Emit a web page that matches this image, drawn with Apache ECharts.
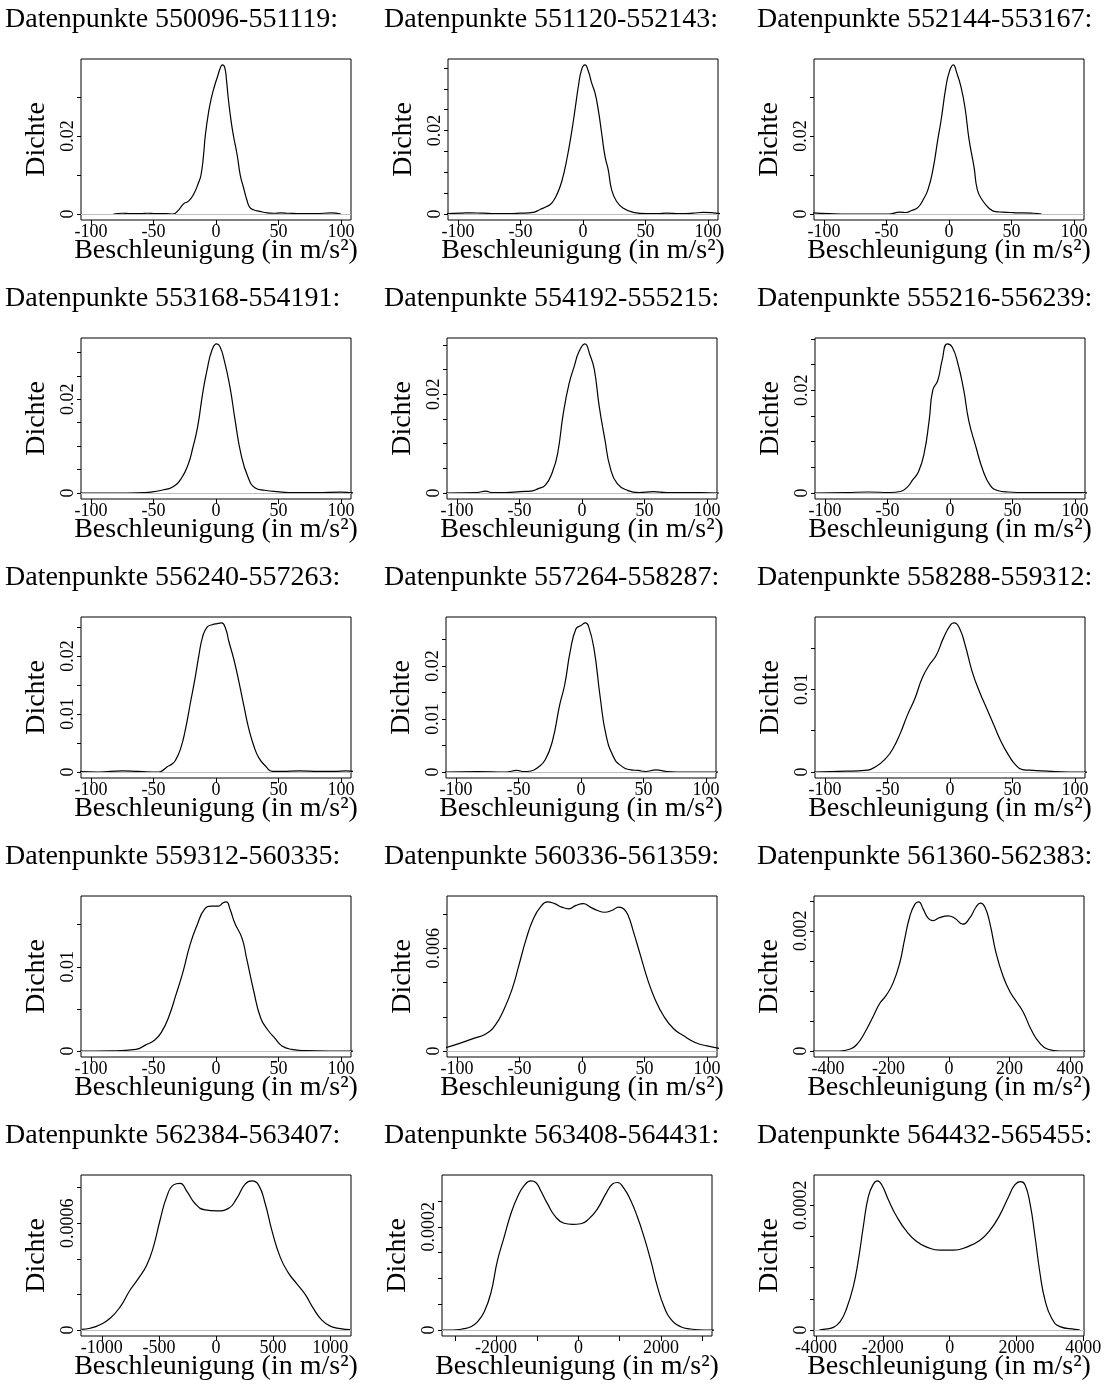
<!DOCTYPE html>
<html><head><meta charset="utf-8">
<script src="https://cdn.jsdelivr.net/npm/echarts@6/dist/echarts.min.js"></script>
<style>html,body{margin:0;padding:0;background:#fff}#c{width:1109px;height:1390px}</style>
</head><body><div id="c"></div>
<script>
// ---------- texts ----------
const titles = [
  'Datenpunkte 550096-551119:', 'Datenpunkte 551120-552143:', 'Datenpunkte 552144-553167:',
  'Datenpunkte 553168-554191:', 'Datenpunkte 554192-555215:', 'Datenpunkte 555216-556239:',
  'Datenpunkte 556240-557263:', 'Datenpunkte 557264-558287:', 'Datenpunkte 558288-559312:',
  'Datenpunkte 559312-560335:', 'Datenpunkte 560336-561359:', 'Datenpunkte 561360-562383:',
  'Datenpunkte 562384-563407:', 'Datenpunkte 563408-564431:', 'Datenpunkte 564432-565455:'
];
const xName = 'Beschleunigung (in m/s²)';
const yName = 'Dichte';

// ---------- density curves (x = Beschleunigung, d = Dichte) ----------
const x1 = [-82,-75,-68,-60,-55,-48,-40,-34.4,-30,-26,-22,-18,-14,-12,-10,-8.6,-6,-3.5,-1,1.5,3.5,5.1,7,8.5,9.7,12,14,17,19.4,22,24.7,27,30,35,41,46,52,58,68,80,92,100];
const d1 = [0,0.0002,0.0001,0.0001,0.0002,0.0001,0.0001,0,0.001,0.0026,0.0033,0.005,0.008,0.01,0.015,0.02,0.026,0.03,0.033,0.0355,0.0375,0.0382,0.0375,0.034,0.03,0.024,0.02,0.015,0.01,0.0068,0.0036,0.0017,0.0011,0.0007,0.0003,0.0002,0.0003,0.0002,0.0001,0.0001,0.0003,0];

const x2 = [-110,-98,-90,-80,-70,-60,-50,-40,-34.3,-29,-25,-21,-17,-13,-9,-6.4,-3.7,-1.1,1.6,4.3,6.9,9.6,12.2,14.9,17.6,20.2,22.9,26.9,32.2,40.2,50.8,60,66.8,77,88,96,110];
const d2 = [0.0001,0.0002,0.0003,0.0002,0.0001,0.0001,0.0002,0.0004,0.0011,0.0018,0.0026,0.0046,0.0078,0.013,0.0198,0.025,0.0306,0.0346,0.0357,0.0342,0.0314,0.029,0.025,0.0194,0.0138,0.0106,0.0058,0.003,0.0014,0.0004,0.0001,0.0001,0.0002,0.0001,0.0002,0.0004,0.0001];

const x3 = [-110,-96,-80,-60,-48.5,-39.3,-34,-30,-24.8,-20.8,-16.9,-12.9,-9,-6.3,-2.4,0.3,3.4,6.3,9.5,12.7,16.1,20,22.7,26.6,32,37.2,43,49,55,59.6,67.5,74];
const d3 = [0.0003,0.0001,0,0,0,0.0005,0.0004,0.0009,0.0017,0.0036,0.0062,0.0113,0.019,0.0241,0.0327,0.0365,0.0382,0.0361,0.0327,0.0275,0.019,0.0121,0.0062,0.0036,0.0015,0.0006,0.0005,0.0004,0.0003,0.0003,0.0002,0];

const x4 = [-110,-80,-58,-52,-43.5,-34.7,-27.8,-22,-18.7,-14.7,-10.7,-7.2,-3.2,0.5,3.2,6.6,11.2,15.3,19.9,25.6,31.4,38.9,48.7,63,80,100,110];
const d4 = [0,0,0.0001,0.0002,0.0006,0.0013,0.0031,0.0063,0.0095,0.0141,0.0212,0.0262,0.0305,0.0318,0.0312,0.0283,0.0226,0.0155,0.0084,0.0034,0.0011,0.0006,0.0003,0.0001,0.0001,0.0002,0];

const x5 = [-110,-84,-77,-72.4,-61,-49.4,-40.8,-35,-29.3,-23.6,-19.5,-15,-10.3,-6.3,-2.3,2.3,6.3,9.8,13.8,18.4,22.4,28.2,36.8,45.4,57,68,82.8,95,110];
const d5 = [0,0.0001,0.0004,0.0001,0.0001,0.0003,0.0004,0.0009,0.0016,0.0043,0.008,0.0161,0.0222,0.0256,0.0287,0.0302,0.028,0.0251,0.0175,0.0107,0.0053,0.0019,0.0005,0.0001,0.0003,0.0001,0.0001,0.0001,0];

const x6 = [-110,-83,-65.5,-48,-39.7,-34,-30,-25.3,-20.7,-16.7,-13.8,-9.8,-6.3,-2.3,1.7,6.3,11,15,20.7,26.4,32.2,38,46.6,61,78,90,104,110];
const d6 = [0,0.0001,0.0002,0.0001,0.0003,0.0012,0.0025,0.0041,0.0077,0.0141,0.02,0.0219,0.0258,0.029,0.0284,0.0252,0.02,0.0141,0.009,0.0044,0.0015,0.0005,0.0002,0.0001,0.0001,0.0001,0.0001,0];

const x7 = [-110,-94,-75,-62,-46,-43.2,-39,-35.2,-32.5,-28.5,-24.5,-20.5,-16.5,-13.8,-10.6,-7.1,-3.1,0.9,4.4,7.6,10.3,14.3,18.3,22.4,26.4,30.4,34.4,39.8,45.1,53,66.5,82.6,95,104,110];
const d7 = [0.0001,0,0.0002,0.0001,0,0.0002,0.0009,0.0014,0.002,0.0039,0.0073,0.0119,0.0165,0.02,0.0234,0.025,0.0254,0.0256,0.0257,0.0248,0.0225,0.0194,0.0156,0.0113,0.0073,0.0044,0.0024,0.001,0.0001,0.0001,0.0002,0.0001,0.0001,0.0002,0.0001];

const x8 = [-110,-83,-60,-51.4,-45.7,-40,-34.3,-28.6,-22.9,-17,-13,-8.6,-4,0,3.5,6,10.3,15.4,20,25.7,31.4,40,45.7,51.4,60,68.6,85,110];
const d8 = [0,0.0001,0,0.0003,0.0001,0.0002,0.0009,0.0023,0.0058,0.0127,0.0165,0.0228,0.027,0.0276,0.0281,0.0275,0.0234,0.014,0.007,0.003,0.0013,0.0004,0.0003,0.0001,0.0004,0.0001,0,0];

const x9 = [-110,-82.8,-68.4,-59.8,-51,-45.4,-39.7,-34,-28,-22.4,-16.7,-11,-5.2,0.6,3.4,7.5,12,17.8,23.6,29.3,35,40.8,46.6,52.3,58,66.7,78,95,110];
const d9 = [0,0.0001,0.0002,0.0006,0.0017,0.0029,0.0047,0.0069,0.0089,0.0113,0.0129,0.0141,0.0162,0.0178,0.018,0.0174,0.0154,0.0121,0.0097,0.0077,0.0057,0.0037,0.0021,0.0009,0.0003,0.0002,0.0001,0,0];

const x10 = [-110,-83,-64,-56.6,-49,-43.4,-37.7,-32,-26.4,-20.8,-15,-9.4,-3.8,1.9,5.7,8.3,11.3,15,20.8,24.5,30.2,35.8,41.5,47.2,52.8,60.4,71.7,90,110];
const d10 = [0,0.00003,0.0002,0.0007,0.0013,0.0023,0.0041,0.0067,0.0094,0.0126,0.015,0.0168,0.0172,0.0172,0.0176,0.0177,0.0168,0.0152,0.0134,0.011,0.0071,0.0039,0.0025,0.0015,0.0006,0.0002,0.00005,0,0];

const x11 = [-112,-98,-86.7,-77,-69.5,-62,-56,-50.5,-44.8,-39,-33.3,-27.6,-21.9,-16.2,-10.5,-4.8,1,6.7,12.4,18,23.8,29.5,33.3,37,41,46.7,52.4,58,65.7,73.3,81,90.5,100,110];
const d11 = [0.00012,0.00045,0.00074,0.001,0.0015,0.0025,0.0036,0.005,0.0065,0.0077,0.0084,0.0087,0.0086,0.0084,0.0083,0.0085,0.0086,0.0084,0.0082,0.0081,0.0082,0.0084,0.0083,0.0079,0.007,0.0056,0.0042,0.0031,0.002,0.0013,0.0009,0.0005,0.0003,0.00015];

const x12 = [-450,-361,-328,-306,-279,-251,-229,-207,-185,-163,-147,-130,-113,-100,-86,-69,-53,-31,-3,19,46,68,90,104,118,134,156,179,201,223,245,272,300,327,366,450];
const d12 = [0,0,0.00003,0.0001,0.0003,0.00057,0.00079,0.00093,0.00113,0.00146,0.00185,0.00223,0.00244,0.00248,0.00237,0.00221,0.00217,0.00222,0.00225,0.00221,0.00211,0.00221,0.0024,0.00246,0.0024,0.00215,0.00162,0.00124,0.00099,0.00082,0.00065,0.00035,0.00013,0.00003,0,0];

const x13 = [-1175,-1102,-1015,-927,-839,-752,-679,-606,-547,-489,-431,-372,-314,-255,-182,-95,7,109,182,255,314,372,431,489,562,635,708,781,854,927,1000,1088,1175];
const d13 = [0.000004,0.00001,0.00003,0.000066,0.00013,0.000225,0.00029,0.000366,0.00047,0.00062,0.00075,0.000816,0.000825,0.00078,0.00071,0.000675,0.00067,0.000684,0.00074,0.00082,0.000838,0.000816,0.00071,0.00056,0.00041,0.00032,0.00026,0.0002,0.00012,0.000056,0.000022,0.000008,0.000002];

const x14 = [-3300,-3056,-2773,-2611,-2450,-2288,-2126,-1964,-1803,-1641,-1479,-1318,-1156,-1035,-914,-752,-550,-348,-146,57,259,461,663,825,946,1108,1269,1431,1593,1754,1916,2078,2240,2482,2724,3048,3300];
const d14 = [0,0,0.0000026,0.0000064,0.000016,0.000035,0.000071,0.000135,0.00018,0.000225,0.000258,0.00028,0.000289,0.000286,0.00027,0.000245,0.000219,0.000207,0.000205,0.000206,0.000216,0.000235,0.000264,0.000283,0.000286,0.000274,0.000251,0.000219,0.00018,0.000135,0.000084,0.000045,0.000021,0.0000064,0.000002,0,0];

const x15 = [-3900,-3780,-3481,-3282,-3082,-2883,-2733,-2584,-2434,-2284,-2165,-2035,-1835,-1586,-1287,-988,-688,-289,110,509,908,1207,1506,1756,1955,2125,2254,2404,2554,2703,2853,3052,3302,3751,3900];
const d15 = [0,0.000001,0.0000043,0.000013,0.000035,0.00007,0.000112,0.000166,0.000214,0.000234,0.000239,0.000233,0.000209,0.000182,0.000158,0.000142,0.000133,0.000128,0.000128,0.000133,0.000144,0.00016,0.000185,0.000213,0.000233,0.000238,0.000233,0.000203,0.00015,0.000091,0.000048,0.000019,0.0000054,0.000001,0];

// ---------- axis ticks / labels / limits ----------
const tX100 = [-100,-50,0,50,100];
const xTickValues = [tX100,tX100,tX100,tX100,tX100,tX100,tX100,tX100,tX100,tX100,tX100,
  [-400,-200,0,200,400],[-1000,-500,0,500,1000],[-3000,-2000,-1000,0,1000,2000,3000],[-4000,-2000,0,2000,4000]];
const xLabelValues = [tX100,tX100,tX100,tX100,tX100,tX100,tX100,tX100,tX100,tX100,tX100,
  [-400,-200,0,200,400],[-1000,-500,0,500,1000],[-2000,0,2000],[-4000,-2000,0,2000,4000]];
const L100 = [-108,108];
const xLimits = [L100,L100,L100,L100,L100,L100,L100,L100,L100,L100,L100,[-446,446],[-1182,1182],[-3310,3240],[-4060,4020]];
const yTickValues = [
  [0,0.01,0.02,0.03],
  [0,0.005,0.01,0.015,0.02,0.025,0.03,0.035],
  [0,0.01,0.02,0.03],
  [0,0.005,0.01,0.015,0.02,0.025,0.03],
  [0,0.005,0.01,0.015,0.02,0.025,0.03],
  [0,0.005,0.01,0.015,0.02,0.025,0.03],
  [0,0.005,0.01,0.015,0.02,0.025],
  [0,0.005,0.01,0.015,0.02,0.025],
  [0,0.005,0.01,0.015],
  [0,0.005,0.01,0.015],
  [0,0.002,0.004,0.006,0.008],
  [0,0.0005,0.001,0.0015,0.002,0.0025],
  [0,0.0002,0.0004,0.0006,0.0008],
  [0,0.00005,0.0001,0.00015,0.0002,0.00025],
  [0,0.00005,0.0001,0.00015,0.0002]
];
const yLabelValues = [
  [0,0.02],[0,0.02],[0,0.02],[0,0.02],[0,0.02],[0,0.02],
  [0,0.01,0.02],[0,0.01,0.02],[0,0.01],[0,0.01],[0,0.006],[0,0.002],[0,0.0006],[0,0.0002],[0,0.0002]
];

const xs = [x1,x2,x3,x4,x5,x6,x7,x8,x9,x10,x11,x12,x13,x14,x15];
const ds = [d1,d2,d3,d4,d5,d6,d7,d8,d9,d10,d11,d12,d13,d14,d15];

// ---------- layout ----------
const font = '"Liberation Serif", "Times New Roman", serif';
const colTitleLeft = [5, 384, 757];
const boxLeft = [81,448,814, 81,447,815, 81,446,815, 81,447,814, 81,442,814];
const boxW = 270, boxH = 161, rowStep = 279, boxTop0 = 59, titleTop0 = 6;

const option = {animation:false, backgroundColor:'#fff', title:[], grid:[], xAxis:[], yAxis:[], series:[]};
for (let i = 0; i < 15; i++) {
  const r = Math.floor(i / 3), c = i % 3;
  const M = Math.max(...ds[i]);
  option.title.push({
    text: titles[i], left: colTitleLeft[c], top: titleTop0 + r * rowStep, padding: 0,
    textStyle: {fontFamily: font, fontSize: 28, fontWeight: 'normal', color: '#000'}
  });
  option.grid.push({
    left: boxLeft[i], top: boxTop0 + r * rowStep, width: boxW, height: boxH,
    show: true, borderColor: '#000', borderWidth: 1, backgroundColor: 'transparent',
    containLabel: false, outerBoundsMode: 'none'
  });
  option.xAxis.push({
    type: 'value', gridIndex: i, min: xLimits[i][0], max: xLimits[i][1],
    axisLine: {show: false, onZero: false}, splitLine: {show: false},
    axisTick: {show: true, length: 5, customValues: xTickValues[i], lineStyle: {color: '#000', width: 1}},
    axisLabel: {customValues: xLabelValues[i], formatter: v => String(v), fontFamily: font, fontSize: 18, color: '#000', margin: 3},
    name: xName, nameLocation: 'middle', nameGap: 17, nameMoveOverlap: false,
    nameTextStyle: {fontFamily: font, fontSize: 28, color: '#000'}
  });
  option.yAxis.push({
    type: 'value', gridIndex: i, min: -0.04 * M, max: 1.04 * M,
    axisLine: {show: false, onZero: false}, splitLine: {show: false},
    axisTick: {show: true, length: 4, customValues: yTickValues[i], lineStyle: {color: '#000', width: 1}},
    axisLabel: {customValues: yLabelValues[i], rotate: 90, formatter: v => String(v), fontFamily: font, fontSize: 18, color: '#000', margin: 4},
    name: yName, nameLocation: 'middle', nameRotate: 90, nameGap: 30, nameMoveOverlap: false,
    nameTextStyle: {fontFamily: font, fontSize: 28, color: '#000'}
  });
  option.series.push({
    type: 'line', xAxisIndex: i, yAxisIndex: i,
    data: xs[i].map((x, k) => [x, ds[i][k]]),
    symbol: 'none', showSymbol: false, smooth: 0.5, clip: true, silent: true,
    lineStyle: {color: '#000', width: 1.2},
    markLine: {silent: true, symbol: ['none', 'none'], label: {show: false},
      lineStyle: {color: '#bebebe', type: 'solid', width: 1}, data: [{yAxis: 0}], animation: false}
  });
}
const chart = echarts.init(document.getElementById('c'), null, {renderer: 'canvas'});
chart.setOption(option);
</script></body></html>
